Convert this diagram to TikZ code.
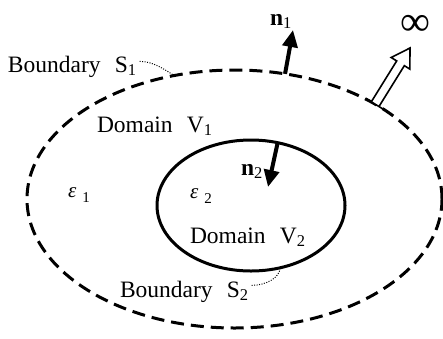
\documentclass[tikz,border=0pt]{standalone}
\usepackage{fontspec}
\setmainfont{Liberation Serif}
\usetikzlibrary{shapes.geometric,arrows.meta,calc}
\begin{document}
\begin{tikzpicture}[x=1pt,y=-1pt,
  lbl/.style={inner sep=0pt, outer sep=0pt, anchor=base west, font=\fontsize{23.5}{28}\selectfont},
  region/.style={ellipse, draw, line width=3pt, inner sep=0pt, outer sep=0pt},
  normalvec/.style={line width=4pt, -{Triangle[length=17pt,width=15pt]}},
  lead/.style={line width=1pt, dash pattern=on 1pt off 1.5pt},
  hollow/.style={line width=1.6pt, line join=miter}]
\useasboundingbox (0,0) rectangle (443,338);
% regions
\node[region, dash pattern=on 13pt off 7pt, minimum width=415pt, minimum height=258pt] (outer) at (234.5,199) {};
\node[region, minimum width=188pt, minimum height=131pt] (inner) at (251,205.5) {};
% labels
\node[lbl] (s1) at (8,72) {Boundary\hspace{0.6em}S\textsubscript{1}};
\node[lbl] (v1) at (97,132) {Domain\hspace{0.6em}V\textsubscript{1}};
\node[lbl] (v2) at (190,243) {Domain\hspace{0.6em}V\textsubscript{2}};
\node[lbl] (s2) at (120,297) {Boundary\hspace{0.6em}S\textsubscript{2}};
\node[lbl, font=\fontsize{21}{25}\selectfont] (e1) at (68,197) {\textit{ε}\hspace{6pt}\raisebox{-5pt}{\fontsize{15}{18}\selectfont 1}};
\node[lbl, font=\fontsize{21}{25}\selectfont] (e2) at (190,198) {\textit{ε}\hspace{6pt}\raisebox{-5pt}{\fontsize{15}{18}\selectfont 2}};
\node[lbl] (n1) at (270,25) {\textbf{n}\textsubscript{1}};
\node[lbl] (n2) at (241,175) {\textbf{n}\textsubscript{2}};
\node[inner sep=0pt, font=\fontsize{42}{46}\selectfont] (inf) at (415,25) {∞};
% normals
\coordinate (n1tip) at (293,30);
\coordinate (n2tip) at (268,187);
\draw[normalvec] (outer.68) -- (n1tip);
\draw[normalvec] (inner.67) -- (n2tip);
% leader lines
\draw[lead] ($(s1.east)+(3,-5)$) .. controls +(14,0) and +(-10,-6) .. (outer.116);
\draw[lead] ($(s2.east)+(3,-6)$) .. controls +(14,0) and +(0,10) .. (inner.-65);
% hollow arrow to infinity
\coordinate (ib) at (outer.34);
\coordinate (it) at (410,48);
\coordinate (im) at ($(it)!18pt!(ib)$);
\draw[hollow, fill=white] ($(ib)!4.5pt!90:(it)$) -- ($(im)!4.5pt!-90:(ib)$) -- ($(im)!11pt!-90:(ib)$) -- (it)
  -- ($(im)!11pt!90:(ib)$) -- ($(im)!4.5pt!90:(ib)$) -- ($(ib)!4.5pt!-90:(it)$);
\draw[hollow] ($(ib)!11pt!90:(it)$) -- ($(ib)!11pt!-90:(it)$);
\end{tikzpicture}
\end{document}
